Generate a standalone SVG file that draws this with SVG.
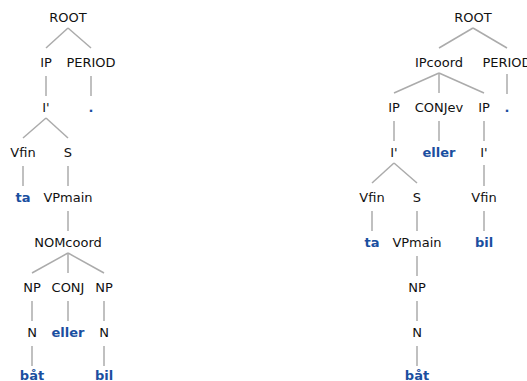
<svg xmlns="http://www.w3.org/2000/svg" width="527" height="381" viewBox="0 0 527 381">
<style>
text{font-family:"DejaVu Sans","Liberation Sans",sans-serif;font-size:13px;text-anchor:middle;fill:#111}
text.w{font-weight:bold;fill:#1a4fa0}
.e line{stroke:#ababab;stroke-width:1.5}
</style>
<rect width="527" height="381" fill="#fff"/>
<g class="e" id="connectors">
<line x1="68" y1="28" x2="46" y2="48"/>
<line x1="68" y1="28" x2="91" y2="48"/>
<line x1="46" y1="76" x2="46" y2="96"/>
<line x1="91" y1="76" x2="91" y2="96"/>
<line x1="46" y1="118" x2="23" y2="138"/>
<line x1="46" y1="118" x2="68" y2="138"/>
<line x1="23" y1="166" x2="23" y2="186"/>
<line x1="68" y1="166" x2="68" y2="186"/>
<line x1="68" y1="211" x2="68" y2="231"/>
<line x1="68" y1="253" x2="32" y2="273"/>
<line x1="68" y1="253" x2="68" y2="273"/>
<line x1="68" y1="253" x2="104" y2="273"/>
<line x1="32" y1="301" x2="32" y2="321"/>
<line x1="68" y1="301" x2="68" y2="321"/>
<line x1="104" y1="301" x2="104" y2="321"/>
<line x1="32" y1="346" x2="32" y2="366"/>
<line x1="104" y1="346" x2="104" y2="366"/>
<line x1="473" y1="28" x2="439" y2="48"/>
<line x1="473" y1="28" x2="507" y2="48"/>
<line x1="439" y1="73" x2="394" y2="93"/>
<line x1="439" y1="73" x2="439" y2="93"/>
<line x1="439" y1="73" x2="484" y2="93"/>
<line x1="507" y1="74" x2="507" y2="94"/>
<line x1="394" y1="121" x2="394" y2="141"/>
<line x1="439" y1="121" x2="439" y2="141"/>
<line x1="484" y1="121" x2="484" y2="141"/>
<line x1="394" y1="163" x2="372" y2="183"/>
<line x1="394" y1="163" x2="417" y2="183"/>
<line x1="484" y1="165" x2="484" y2="186"/>
<line x1="372" y1="211" x2="372" y2="231"/>
<line x1="417" y1="211" x2="417" y2="231"/>
<line x1="484" y1="211" x2="484" y2="231"/>
<line x1="417" y1="256" x2="417" y2="276"/>
<line x1="417" y1="301" x2="417" y2="321"/>
<line x1="417" y1="346" x2="417" y2="366"/>
</g>
<g id="left-ROOT"><text x="68" y="22">ROOT</text></g>
<g id="left-IP"><text x="46" y="67">IP</text></g>
<g id="left-PERIOD"><text x="91" y="67">PERIOD</text></g>
<g id="left-Ibar"><text x="46" y="112">I'</text></g>
<g id="left-dot"><text class="w" x="91" y="112">.</text></g>
<g id="left-Vfin"><text x="23" y="157">Vfin</text></g>
<g id="left-S"><text x="68" y="157">S</text></g>
<g id="left-ta"><text class="w" x="23" y="202">ta</text></g>
<g id="left-VPmain"><text x="68" y="202">VPmain</text></g>
<g id="left-NOMcoord"><text x="68" y="247">NOMcoord</text></g>
<g id="left-NP1"><text x="32" y="292">NP</text></g>
<g id="left-CONJ"><text x="68" y="292">CONJ</text></g>
<g id="left-NP2"><text x="104" y="292">NP</text></g>
<g id="left-N1"><text x="32" y="337">N</text></g>
<g id="left-eller"><text class="w" x="68" y="337">eller</text></g>
<g id="left-N2"><text x="104" y="337">N</text></g>
<g id="left-bat"><text class="w" x="32" y="380">båt</text></g>
<g id="left-bil"><text class="w" x="104" y="380">bil</text></g>
<g id="right-ROOT"><text x="473" y="22">ROOT</text></g>
<g id="right-IPcoord"><text x="439" y="67">IPcoord</text></g>
<g id="right-PERIOD"><text x="507" y="67">PERIOD</text></g>
<g id="right-IP1"><text x="394" y="112">IP</text></g>
<g id="right-CONJev"><text x="439" y="112">CONJev</text></g>
<g id="right-IP2"><text x="484" y="112">IP</text></g>
<g id="right-dot"><text class="w" x="507" y="112">.</text></g>
<g id="right-Ibar1"><text x="394" y="157">I'</text></g>
<g id="right-eller"><text class="w" x="439" y="157">eller</text></g>
<g id="right-Ibar2"><text x="484" y="157">I'</text></g>
<g id="right-Vfin1"><text x="372" y="202">Vfin</text></g>
<g id="right-S"><text x="417" y="202">S</text></g>
<g id="right-Vfin2"><text x="484" y="202">Vfin</text></g>
<g id="right-ta"><text class="w" x="372" y="247">ta</text></g>
<g id="right-VPmain"><text x="417" y="247">VPmain</text></g>
<g id="right-bil"><text class="w" x="484" y="247">bil</text></g>
<g id="right-NP"><text x="417" y="292">NP</text></g>
<g id="right-N"><text x="417" y="337">N</text></g>
<g id="right-bat"><text class="w" x="417" y="380">båt</text></g>
</svg>
